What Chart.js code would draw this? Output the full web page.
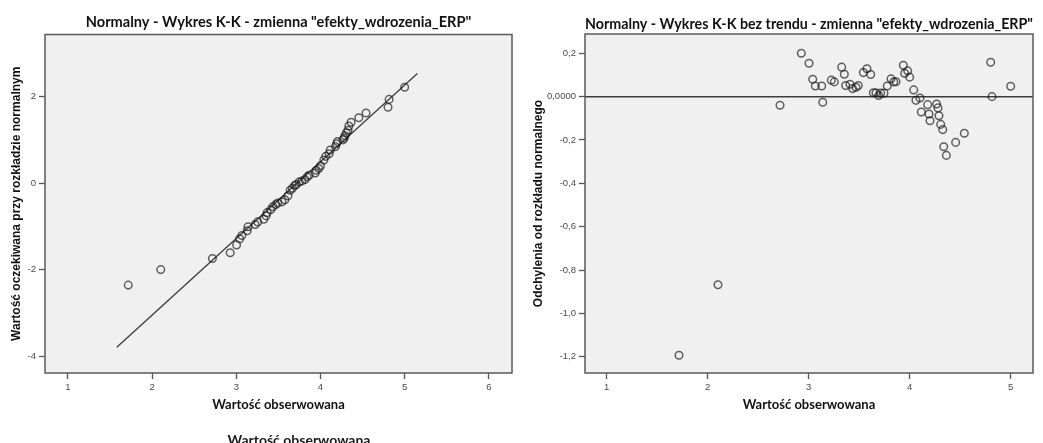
<!DOCTYPE html>
<html>
<head>
<meta charset="utf-8">
<script src="https://cdn.jsdelivr.net/npm/chart.js@4.4.1/dist/chart.umd.min.js"></script>
<style>
  html, body { margin: 0; padding: 0; background: #fff; width: 1043px; height: 443px; overflow: hidden; }
  #qq { position: absolute; left: 0; top: 0; }
  #dqq { position: absolute; left: 520px; top: 0; }
  #note { position: absolute; left: 299px; top: 431px; transform: translateX(-50%);
          font: bold 14px Lato, "Liberation Sans", sans-serif; color: #1a1a1a; white-space: nowrap; }
</style>
</head>
<body>
<canvas id="qq" width="520" height="443"></canvas>
<canvas id="dqq" width="523" height="443"></canvas>
<div id="note">Wartość obserwowana</div>
<script>
// Observed values of "efekty_wdrozenia_ERP" (sorted)
const observed = [1.716, 2.102, 2.716, 2.927, 3.003, 3.040, 3.066, 3.129, 3.139, 3.224, 3.254,
  3.327, 3.353, 3.366, 3.409, 3.435, 3.468, 3.491, 3.541, 3.577, 3.614, 3.640, 3.666, 3.693,
  3.713, 3.746, 3.778, 3.815, 3.842, 3.864, 3.937, 3.950, 3.980, 4.000, 4.040, 4.062, 4.102,
  4.115, 4.178, 4.191, 4.201, 4.267, 4.280, 4.290, 4.307, 4.327, 4.337, 4.363, 4.455, 4.541,
  4.802, 4.815, 5.000];

// Expected value under the normal distribution for each observation
const expectedNormal = [-2.352, -1.995, -1.739, -1.606, -1.426, -1.286, -1.209, -1.098, -1.006,
  -0.957, -0.896, -0.836, -0.757, -0.682, -0.612, -0.546, -0.494, -0.461, -0.433, -0.387, -0.295,
  -0.165, -0.119, -0.058, -0.034, 0.024, 0.048, 0.080, 0.142, 0.180, 0.233, 0.293, 0.335, 0.399,
  0.529, 0.615, 0.675, 0.763, 0.840, 0.906, 0.955, 0.995, 1.035, 1.089, 1.159, 1.218, 1.315,
  1.401, 1.504, 1.613, 1.746, 1.928, 2.207];

// Deviation from the normal distribution (detrended)
const deviation = [-1.193, -0.868, -0.040, 0.200, 0.154, 0.080, 0.049, 0.049, -0.026, 0.076,
  0.068, 0.136, 0.103, 0.051, 0.057, 0.037, 0.043, 0.051, 0.111, 0.129, 0.102, 0.018, 0.018,
  0.005, 0.016, 0.016, 0.049, 0.082, 0.068, 0.069, 0.145, 0.108, 0.119, 0.090, 0.031, -0.017,
  -0.006, -0.071, -0.037, -0.080, -0.111, -0.034, -0.052, -0.088, -0.128, -0.152, -0.231,
  -0.271, -0.211, -0.169, 0.159, 0.000, 0.048];

// Reference line of the Q-Q plot (end points)
const refLineX = [1.580, 5.151];
const refLineY = [-3.785, 2.523];

// Axis ranges and ticks
const qqXRange = [0.727, 6.275];
const qqYRange = [-4.378, 3.423];
const qqXTicks = [1, 2, 3, 4, 5, 6];
const qqYTicks = [-4, -2, 0, 2];
const qqYLabels = ['-4', '-2', '0', '2'];

const dqqXRange = [0.785, 5.221];
const dqqYRange = [-1.275, 0.289];
const dqqXTicks = [1, 2, 3, 4, 5];
const dqqYTicks = [0.2, 0, -0.2, -0.4, -0.6, -0.8, -1.0, -1.2];
const dqqYLabels = ['0,2', '0,0000', '-0,2', '-0,4', '-0,6', '-0,8', '-1,0', '-1,2'];

// Titles
const qqTitle = 'Normalny - Wykres K-K - zmienna "efekty_wdrozenia_ERP"';
const dqqTitle = 'Normalny - Wykres K-K bez trendu - zmienna "efekty_wdrozenia_ERP"';
const xTitle = 'Wartość obserwowana';
const qqYTitle = 'Wartość oczekiwana przy rozkładzie normalnym';
const dqqYTitle = 'Odchylenia od rozkładu normalnego';

const TITLE_FONT = 'Lato, "Liberation Sans", sans-serif';
const AXIS_FONT = '"Liberation Sans", Arial, sans-serif';

// Grey plot panel with a dark frame
const plotFrame = {
  id: 'plotFrame',
  beforeDraw(chart) {
    const a = chart.chartArea, ctx = chart.ctx;
    ctx.save();
    ctx.fillStyle = '#f0f0f0';
    ctx.fillRect(a.left, a.top, a.right - a.left, a.bottom - a.top);
    ctx.restore();
  },
  afterDraw(chart) {
    const a = chart.chartArea, ctx = chart.ctx;
    ctx.save();
    ctx.strokeStyle = '#5a5a5a';
    ctx.lineWidth = 1.5;
    ctx.strokeRect(a.left, a.top, a.right - a.left, a.bottom - a.top);
    ctx.restore();
  }
};

function pointsOf(xs, ys) {
  return xs.map((x, i) => ({ x: x, y: ys[i] }));
}

const circleStyle = {
  type: 'scatter',
  pointStyle: 'circle',
  pointRadius: 3.8,
  pointBorderWidth: 1.5,
  pointBackgroundColor: 'rgba(0,0,0,0)',
  pointBorderColor: 'rgba(25,25,25,0.68)',
  showLine: false
};

function axisTicks(values, labels) {
  return {
    afterBuildTicks: (scale) => { scale.ticks = values.map(v => ({ value: v })); },
    ticks: {
      autoSkip: false, maxRotation: 0, padding: 3, color: '#4a4a4a',
      font: { family: AXIS_FONT, size: 9.5 },
      callback: (v) => {
        const i = values.findIndex(t => Math.abs(t - v) < 1e-9);
        return i >= 0 ? labels[i] : '';
      }
    },
    grid: { drawOnChartArea: false, drawTicks: true, tickLength: 6, tickColor: '#555', tickWidth: 1.3 },
    border: { display: false }
  };
}

function makeOptions(o) {
  return {
    responsive: false,
    animation: false,
    events: [],
    layout: { padding: { left: 0, right: o.padRight, top: 0, bottom: 0 } },
    plugins: {
      legend: { display: false },
      tooltip: { enabled: false },
      title: {
        display: true, text: o.title, fullSize: false, color: '#111',
        font: { family: TITLE_FONT, size: o.titleSize, weight: 'bold' },
        padding: { top: o.titleTop, bottom: o.titleBottom }
      }
    },
    scales: {
      x: Object.assign({
        type: 'linear', position: 'bottom', min: o.xRange[0], max: o.xRange[1],
        afterFit: (s) => { s.height = 70; },
        title: {
          display: true, text: xTitle, color: '#111',
          font: { family: TITLE_FONT, size: 13, weight: 'bold' },
          padding: { top: 0, bottom: 30 }
        }
      }, axisTicks(o.xTicks, o.xTicks.map(String))),
      y: Object.assign({
        type: 'linear', position: 'left', min: o.yRange[0], max: o.yRange[1],
        afterFit: (s) => { s.width = o.yWidth; },
        title: {
          display: true, text: o.yTitle, color: '#111',
          font: { family: AXIS_FONT, size: 12, weight: 'bold' },
          padding: { top: o.yTitlePad, bottom: 0 }
        }
      }, axisTicks(o.yTicks, o.yLabels))
    }
  };
}

// Normal Q-Q plot
new Chart(document.getElementById('qq'), {
  type: 'scatter',
  data: {
    datasets: [
      Object.assign({ label: 'obserwacje', data: pointsOf(observed, expectedNormal) }, circleStyle),
      {
        label: 'linia', type: 'line', data: pointsOf(refLineX, refLineY),
        borderColor: '#3c3c3c', borderWidth: 1.3, pointRadius: 0, fill: false, tension: 0
      }
    ]
  },
  options: makeOptions({
    title: qqTitle, titleSize: 14.6, titleTop: 14, titleBottom: 3, padRight: 8,
    xRange: qqXRange, yRange: qqYRange, xTicks: qqXTicks,
    yTicks: qqYTicks, yLabels: qqYLabels, yTitle: qqYTitle, yWidth: 45, yTitlePad: 9
  }),
  plugins: [plotFrame]
});

// Detrended normal Q-Q plot
new Chart(document.getElementById('dqq'), {
  type: 'scatter',
  data: {
    datasets: [
      Object.assign({ label: 'odchylenia', data: pointsOf(observed, deviation) }, circleStyle),
      {
        label: 'zero', type: 'line', data: pointsOf(dqqXRange, [0, 0]),
        borderColor: '#3c3c3c', borderWidth: 1.5, pointRadius: 0, fill: false, tension: 0
      }
    ]
  },
  options: makeOptions({
    title: dqqTitle, titleSize: 15, titleTop: 15, titleBottom: 1, padRight: 10,
    xRange: dqqXRange, yRange: dqqYRange, xTicks: dqqXTicks,
    yTicks: dqqYTicks, yLabels: dqqYLabels, yTitle: dqqYTitle, yWidth: 65, yTitlePad: 11
  }),
  plugins: [plotFrame]
});
</script>
</body>
</html>
